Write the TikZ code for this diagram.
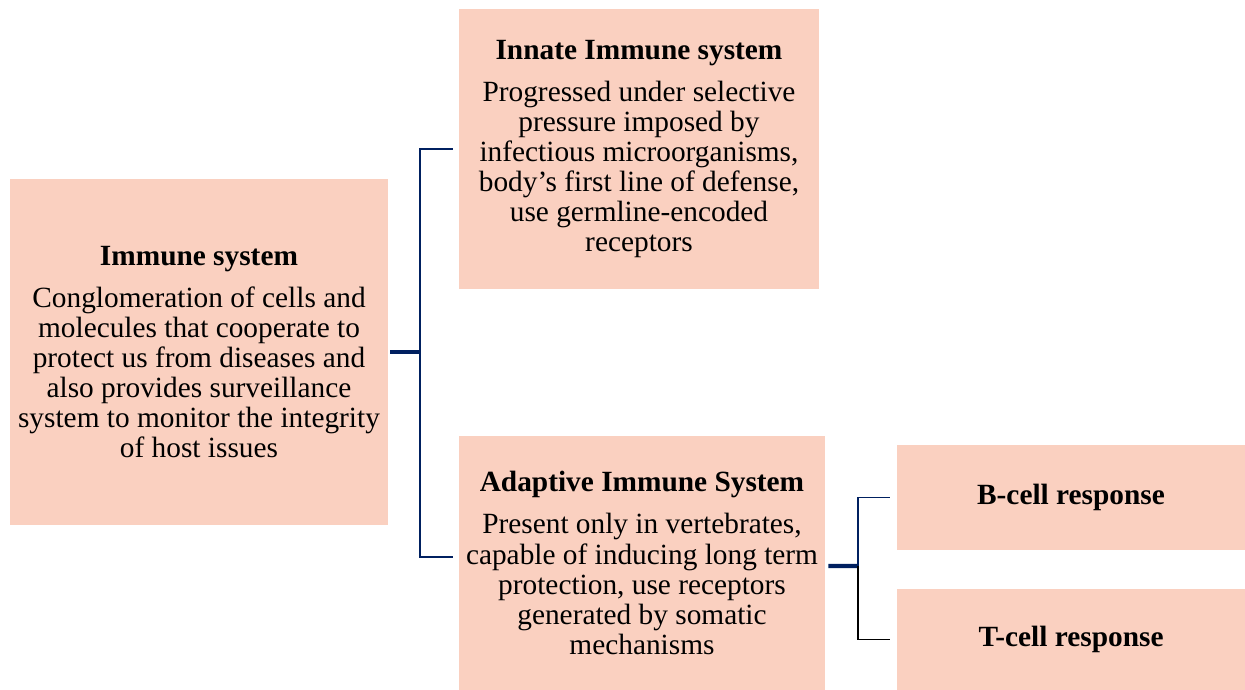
\documentclass[tikz,border=0pt]{standalone}
\usepackage{fontspec}
\setmainfont{Liberation Serif}
\usetikzlibrary{positioning}
\definecolor{peach}{RGB}{250,208,192}
\definecolor{navy}{RGB}{0,32,96}
\tikzstyle{box} = [fill=peach, rectangle, inner sep=0pt, align=center, font=\fontsize{16.7}{17.1}\selectfont]
\tikzstyle{branch} = [draw=navy, line width=1.1pt]
\tikzstyle{stem} = [draw=navy, line width=2.4pt]

\begin{document}
\begin{tikzpicture}[x=0.02cm, y=-0.02cm]
	\useasboundingbox (0,0) rectangle (1245,690);
	% main boxes
	\node[box, minimum width=7.56cm, minimum height=6.92cm] (immune) at (199,352) {%
		\textbf{Immune system}\\[0.24cm]
		Conglomeration of cells and\\ molecules that cooperate to\\ protect us from diseases and\\ also provides surveillance\\ system to monitor the integrity\\ of host issues};
	\node[box, minimum width=7.2cm, minimum height=5.6cm] (innate) at (639,149) {%
		\textbf{Innate Immune system}\\[0.24cm]
		Progressed under selective\\ pressure imposed by\\ infectious microorganisms,\\ body's first line of defense,\\ use germline-encoded\\ receptors};
	\node[box, minimum width=7.32cm, minimum height=5.08cm] (adaptive) at (642,563) {%
		\textbf{Adaptive Immune System}\\[0.24cm]
		Present only in vertebrates,\\ capable of inducing long term\\ protection, use receptors\\ generated by somatic\\ mechanisms};
	\node[box, minimum width=6.96cm, minimum height=2.1cm] (bcell) at (1071,497.5) {\textbf{B-cell response}};
	\node[box, minimum width=6.96cm, minimum height=2.02cm] (tcell) at (1071,639.5) {\textbf{T-cell response}};
	% connectors
	\coordinate (split1) at (420,352);
	\coordinate (split2) at (858,566);
	\draw[stem] ([xshift=0.04cm]immune.east) -- (split1);
	\draw[branch] ([xshift=-0.12cm]innate.west) -| (split1);
	\draw[branch] ([xshift=-0.12cm, yshift=0.12cm]adaptive.west) -| (split1);
	\draw[stem] ([xshift=0.06cm, yshift=-0.06cm]adaptive.east) -- (split2);
	\draw[branch] ([xshift=-0.14cm]bcell.west) -| (split2);
	\draw[branch, draw=black] ([xshift=-0.14cm]tcell.west) -| (split2);
\end{tikzpicture}
\end{document}
